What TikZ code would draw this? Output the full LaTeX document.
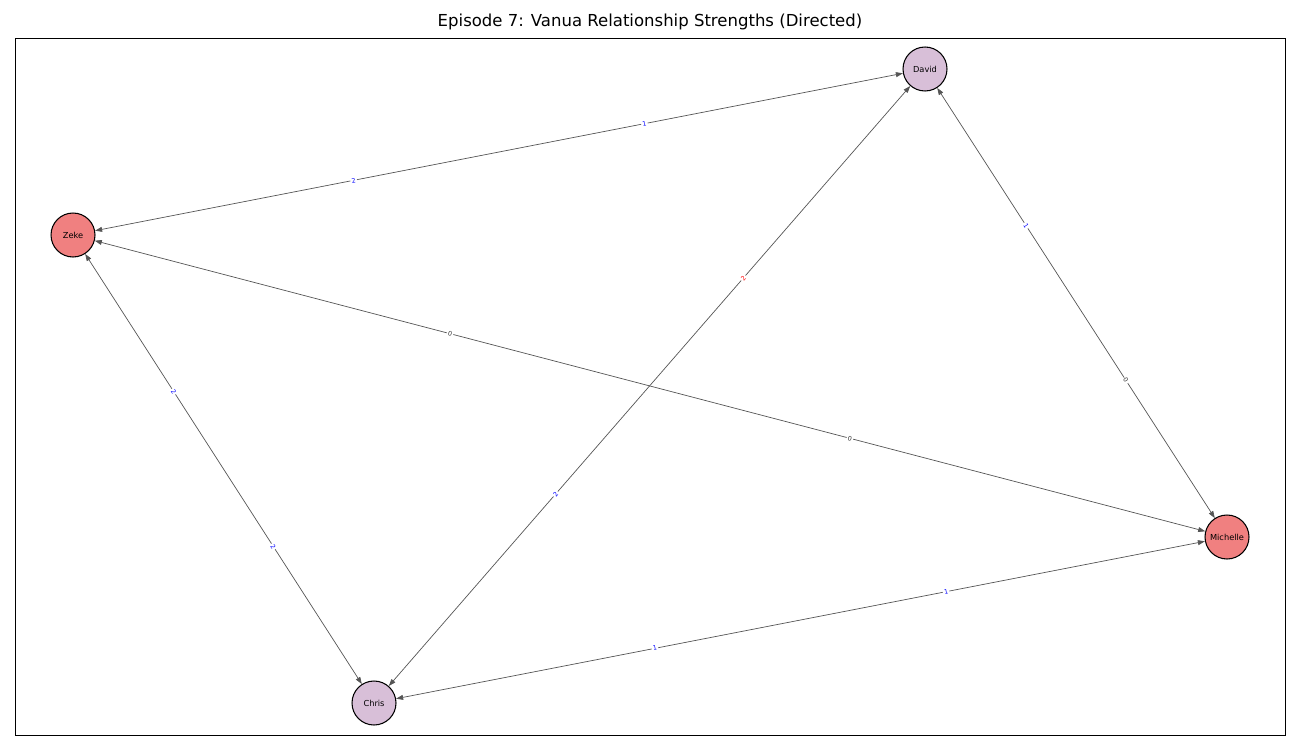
\documentclass[tikz,border=0pt]{standalone}
\usepackage{fontspec}
\setmainfont{DejaVu Sans}
\usetikzlibrary{arrows.meta}
\definecolor{coral}{HTML}{F08080}
\definecolor{thistle}{HTML}{D8BFD8}
\definecolor{edgegray}{HTML}{555555}

\begin{document}
\begin{tikzpicture}[x=0.02cm, y=-0.02cm,
    player/.style={circle, draw=black, line width=0.6pt, minimum size=0.88cm, inner sep=0pt, font=\fontsize{4.7}{5}\selectfont},
    tie/.style={draw=edgegray, line width=0.4pt, {Triangle[length=4pt,width=2.8pt]}-{Triangle[length=4pt,width=2.8pt]}},
    wt/.style={sloped, fill=white, inner sep=0.7pt, font=\fontsize{3.6}{4}\selectfont}]
  \useasboundingbox (0,0) rectangle (1300,750);
  \draw[line width=0.45pt] (15,38) rectangle (1285,735);
  \node[font=\fontsize{9.4}{11}\selectfont] (title) at (650,22) {Episode 7: Vanua Relationship Strengths (Directed)};

  \node[player, fill=thistle] (david) at (925,69) {David};
  \node[player, fill=coral] (zeke) at (73,235) {Zeke};
  \node[player, fill=coral] (michelle) at (1227,537) {Michelle};
  \node[player, fill=thistle] (chris) at (374,703) {Chris};

  \draw[tie] (zeke) -- (david) node[wt, pos=0.32, text=blue] {2} node[wt, pos=0.68, text=blue] {1};
  \draw[tie] (zeke) -- (michelle) node[wt, pos=0.32, text=black!80] {0} node[wt, pos=0.68, text=black!80] {0};
  \draw[tie] (zeke) -- (chris) node[wt, pos=0.32, text=blue] {2} node[wt, pos=0.68, text=blue] {2};
  \draw[tie] (david) -- (chris) node[wt, pos=0.32, text=red] {2} node[wt, pos=0.68, text=blue] {2};
  \draw[tie] (david) -- (michelle) node[wt, pos=0.32, text=blue] {1} node[wt, pos=0.68, text=black!80] {0};
  \draw[tie] (chris) -- (michelle) node[wt, pos=0.32, text=blue] {1} node[wt, pos=0.68, text=blue] {1};
\end{tikzpicture}
\end{document}
